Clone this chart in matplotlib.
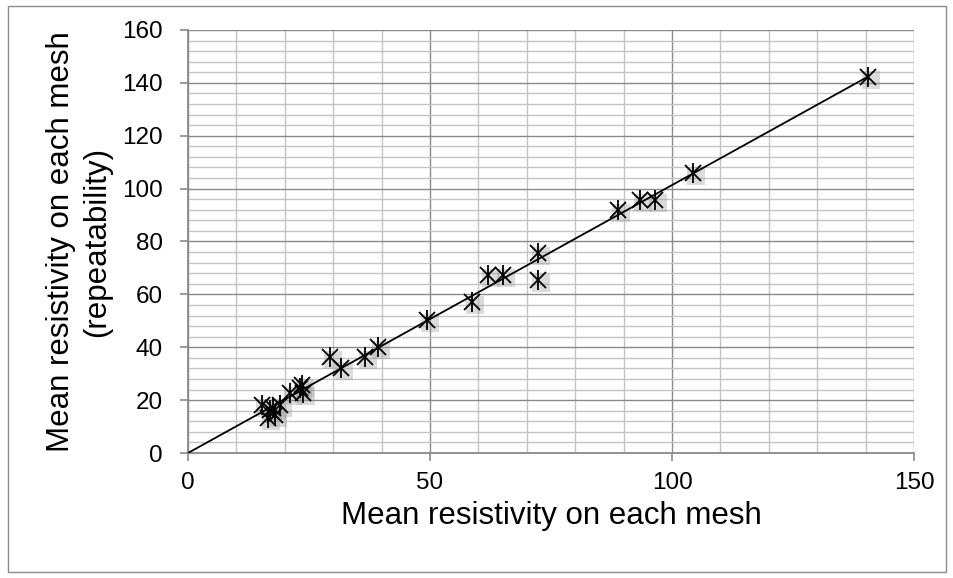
import matplotlib
matplotlib.use("Agg")
import matplotlib.pyplot as plt
import matplotlib.transforms as mtransforms
from matplotlib.patches import Rectangle
import numpy as np

# data
mean_res = [15.3, 17.0, 18.0, 16.5, 17.5, 19.0, 21.1, 23.1, 23.8, 23.5,
            29.3, 31.6, 36.6, 39.3, 49.4, 58.7, 62.0, 65.1, 72.3, 72.3,
            88.8, 93.4, 96.5, 104.3, 140.5]
mean_rep = [18.2, 16.3, 14.4, 13.2, 17.0, 18.2, 22.7, 24.6, 22.7, 25.7,
            36.3, 32.1, 36.3, 40.1, 50.3, 57.1, 67.3, 67.3, 75.6, 65.4,
            91.9, 95.7, 95.7, 105.8, 142.2]
x_ticks = [0, 50, 100, 150]
y_ticks = [0, 20, 40, 60, 80, 100, 120, 140, 160]

x = np.array(mean_res)
y = np.array(mean_rep)

plt.rcParams['font.family'] = ['Liberation Sans', 'DejaVu Sans']

fig = plt.figure(figsize=(9.54, 5.78), dpi=100)
fig.patches.append(Rectangle((8 / 954, 6 / 578), 938 / 954, 566 / 578,
                             transform=fig.transFigure, fill=False,
                             edgecolor='#8c8c8c', linewidth=1.0))
ax = fig.add_axes([188 / 954, 1 - 453 / 578, 726 / 954, 423 / 578])

ax.set_xlim(0, 150)
ax.set_ylim(0, 160)
ax.set_xticks(x_ticks)
ax.set_yticks(y_ticks)
ax.set_xticks(np.arange(0, 151, 10), minor=True)
ax.set_yticks(np.arange(0, 161, 4), minor=True)
ax.grid(which='minor', color='#c4c4c4', linewidth=1.0)
ax.grid(which='major', color='#8a8a8a', linewidth=1.0)
ax.set_axisbelow(True)

for s in ['top', 'right']:
    ax.spines[s].set_visible(False)
for s in ['left', 'bottom']:
    ax.spines[s].set_color('#8a8a8a')
    ax.spines[s].set_linewidth(1.3)
ax.tick_params(which='major', direction='out', length=6, color='#8a8a8a',
               width=1.2, labelsize=17.5)
ax.tick_params(axis='x', pad=8)
ax.tick_params(axis='y', pad=12)
ax.tick_params(which='minor', length=0)

# trendline through origin
slope = np.sum(x * y) / np.sum(x * x)
xl = np.array([0, x.max()])
ax.plot(xl, slope * xl, color='black', linewidth=1.3, zorder=3)

# marker shadows
shadow = mtransforms.offset_copy(ax.transData, fig=fig, x=3, y=-3, units='dots')
ax.plot(x, y, linestyle='none', marker='s', markersize=13, color='#9a9a9a',
        alpha=0.35, markeredgewidth=0, transform=shadow, zorder=2)
ax.plot(x, y, linestyle='none', marker='x', markersize=11, color='black',
        markeredgewidth=1.3, zorder=4)
ax.plot(x, y, linestyle='none', marker='|', markersize=15, color='black',
        markeredgewidth=1.3, zorder=4)

ax.set_xlabel('Mean resistivity on each mesh', fontsize=22.5, labelpad=5)
ax.set_ylabel('Mean resistivity on each mesh\n(repeatability)', fontsize=22.5,
              labelpad=7, linespacing=1.3)

fig.savefig('out.png', dpi=100)
